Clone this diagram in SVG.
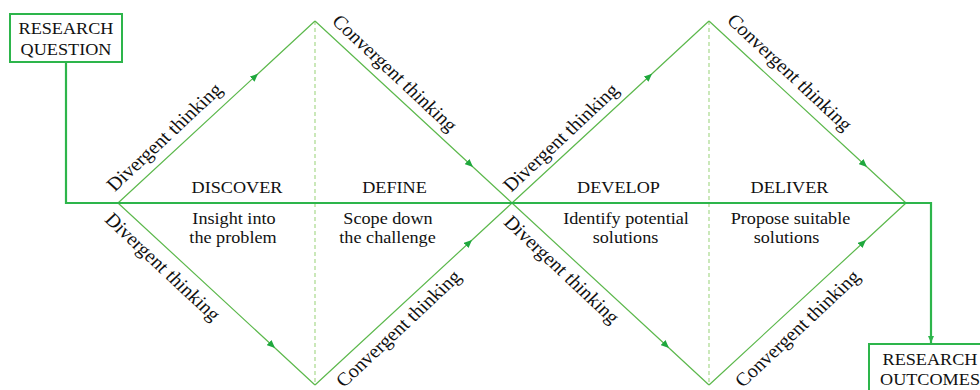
<svg xmlns="http://www.w3.org/2000/svg" width="980" height="390" viewBox="0 0 980 390">
<style>
.t{font-family:"Liberation Serif","Times New Roman",serif;font-size:17px;fill:#111;text-anchor:middle}
.r{font-family:"Liberation Serif","Times New Roman",serif;font-size:19px;fill:#111;text-anchor:middle}
.diag{fill:none;stroke:#5cb84c;stroke-width:1.2;marker-mid:url(#ah)}
.dash{fill:none;stroke:#a8d98c;stroke-width:1.2;stroke-dasharray:4 3}
.main{fill:none;stroke:#2db54b;stroke-width:2.2}
.box{fill:#fff;stroke:#2db54b;stroke-width:2}
</style>
<defs>
<marker id="ah" viewBox="0 0 8 7" refX="8" refY="3.5" markerWidth="8" markerHeight="7" markerUnits="userSpaceOnUse" orient="auto">
<path d="M0,0 L8,3.5 L0,7 z" fill="#1fa83d"/>
</marker>
<marker id="ah2" viewBox="0 0 7 6" refX="7" refY="3" markerWidth="7" markerHeight="6" markerUnits="userSpaceOnUse" orient="auto">
<path d="M0,0 L7,3 L0,6 z" fill="#2db54b"/>
</marker>
</defs>
<rect width="980" height="390" fill="#fff"/>
<g id="connectors">
<line class="dash" x1="315" y1="21" x2="315" y2="385"/>
<line class="dash" x1="709" y1="21" x2="709" y2="385"/>
<path class="diag" d="M118,203 L258,73.7 L315,21"/>
<path class="diag" d="M315,21 L473,167 L512,203"/>
<path class="diag" d="M118,203 L275,348 L315,385"/>
<path class="diag" d="M315,385 L472,240 L512,203"/>
<path class="diag" d="M512,203 L652,73.7 L709,21"/>
<path class="diag" d="M709,21 L867,167 L906,203"/>
<path class="diag" d="M512,203 L669,348 L709,385"/>
<path class="diag" d="M709,385 L866,240 L906,203"/>
<path class="main" d="M66,62 L66,203 L931,203 L931,343" marker-end="url(#ah2)"/>
</g>
<g id="research-question">
<rect class="box" x="10" y="14" width="112" height="48"/>
<text class="t" transform="translate(66,34) scale(1.07,1)">RESEARCH</text>
<text class="t" transform="translate(66,55) scale(1.07,1)">QUESTION</text>
</g>
<g id="research-outcomes">
<rect class="box" x="869" y="344" width="122" height="60"/>
<text class="t" transform="translate(930,365) scale(1.07,1)">RESEARCH</text>
<text class="t" transform="translate(930,385) scale(1.07,1)">OUTCOMES</text>
</g>
<g id="discover">
<text class="t" transform="translate(237,193) scale(1.07,1)">DISCOVER</text>
<text class="t" transform="translate(234,224) scale(1.07,1)">Insight into</text>
<text class="t" transform="translate(233,243) scale(1.07,1)">the problem</text>
</g>
<g id="define">
<text class="t" transform="translate(394.5,193) scale(1.07,1)">DEFINE</text>
<text class="t" transform="translate(388,224) scale(1.07,1)">Scope down</text>
<text class="t" transform="translate(387.5,243) scale(1.07,1)">the challenge</text>
</g>
<g id="develop">
<text class="t" transform="translate(618.5,193) scale(1.07,1)">DEVELOP</text>
<text class="t" transform="translate(626,224) scale(1.07,1)">Identify potential</text>
<text class="t" transform="translate(625.5,243) scale(1.07,1)">solutions</text>
</g>
<g id="deliver">
<text class="t" transform="translate(789.5,193) scale(1.07,1)">DELIVER</text>
<text class="t" transform="translate(790.5,224) scale(1.07,1)">Propose suitable</text>
<text class="t" transform="translate(786.5,243) scale(1.07,1)">solutions</text>
</g>
<g id="thinking-labels">
<text class="r" transform="translate(169,141.5) scale(1.07,1) rotate(-45)">Divergent thinking</text>
<text class="r" transform="translate(390,77.5) scale(1.07,1) rotate(45)">Convergent thinking</text>
<text class="r" transform="translate(158,271.2) scale(1.07,1) rotate(45)">Divergent thinking</text>
<text class="r" transform="translate(403,333) scale(1.07,1) rotate(-45)">Convergent thinking</text>
<text class="r" transform="translate(565.6,142) scale(1.07,1) rotate(-45)">Divergent thinking</text>
<text class="r" transform="translate(785,76.7) scale(1.07,1) rotate(45)">Convergent thinking</text>
<text class="r" transform="translate(557,273.9) scale(1.07,1) rotate(45)">Divergent thinking</text>
<text class="r" transform="translate(802,333) scale(1.07,1) rotate(-45)">Convergent thinking</text>
</g>
</svg>
